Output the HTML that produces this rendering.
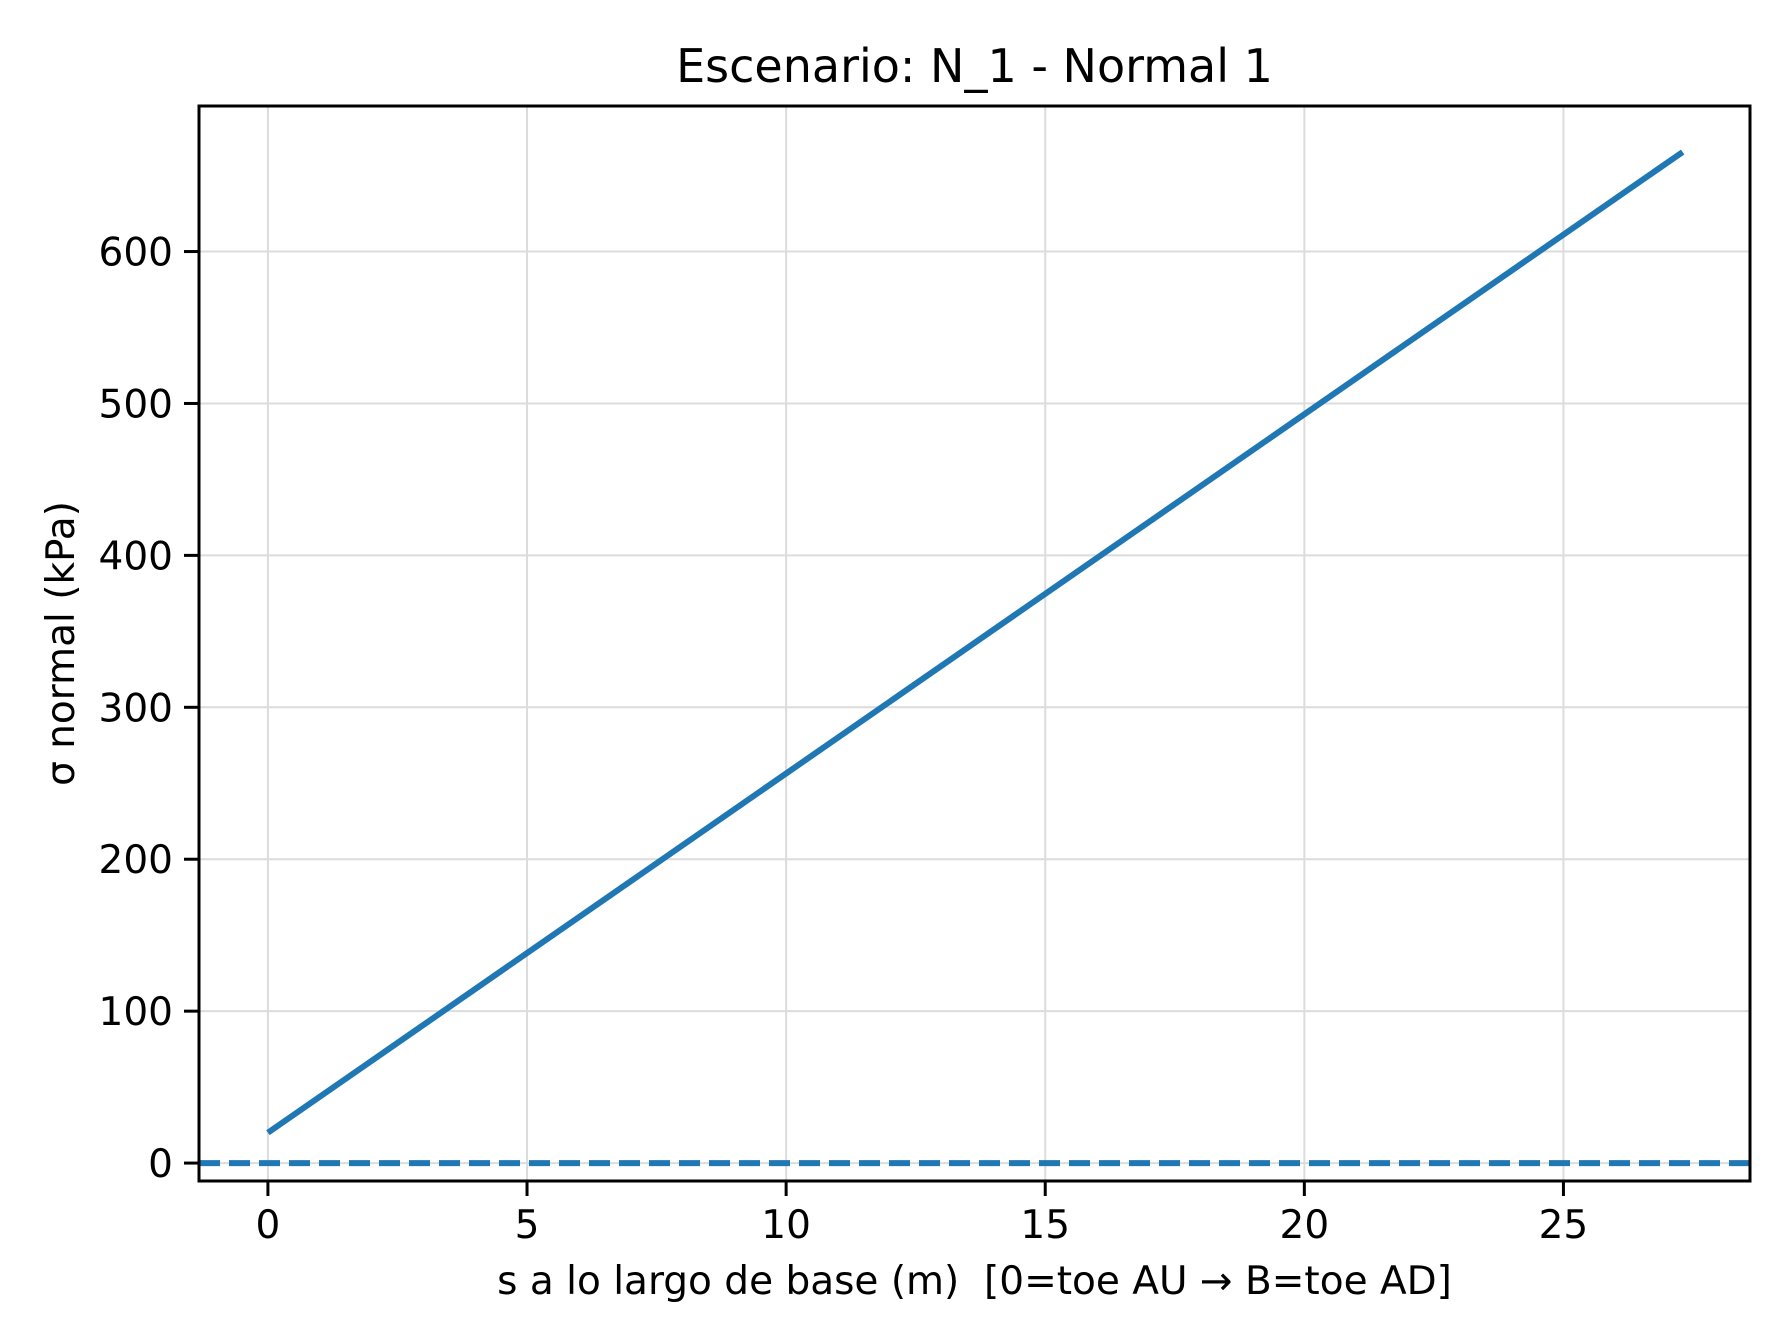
<!DOCTYPE html>
<html><head><meta charset="utf-8"><style>
body{margin:0;background:#fff}
svg{display:block;font-family:"DejaVu Sans","Liberation Sans",sans-serif}
</style></head><body>
<svg id="c" width="1792" height="1344"></svg>
<script>
const xTicks=[0,5,10,15,20,25];
const yTicks=[0,100,200,300,400,500,600];
const sValues=[0,27.3];
const sigmaValues=[20,665.5];
const refLine=[0];
const X0=199,X1=1750,Y0=1181,Y1=106,xmin=-1.33,xmax=28.6,ymin=-11.8,ymax=695.8;
const sx=v=>X0+(v-xmin)/(xmax-xmin)*(X1-X0);
const sy=v=>Y0-(v-ymin)/(ymax-ymin)*(Y0-Y1);
const svg=document.getElementById('c');const NS='http://www.w3.org/2000/svg';
function mk(t,a,txt){const e=document.createElementNS(NS,t);for(const k in a)e.setAttribute(k,a[k]);if(txt!==undefined)e.textContent=txt;svg.appendChild(e);return e;}
xTicks.forEach(t=>{const x=sx(t);
 let g=mk('line',{x1:x,x2:x,y1:Y1,y2:Y0,stroke:'#dcdcdc','stroke-width':2});
 
 
 let k=mk('line',{x1:x,x2:x,y1:Y0,y2:Y0+15,stroke:'#000','stroke-width':3});
 
 
 let l=mk('text',{x:x,y:Y0+57,'text-anchor':'middle','font-size':39},String(t));
 
 
});
yTicks.forEach(t=>{const y=sy(t);
 let g=mk('line',{x1:X0,x2:X1,y1:y,y2:y,stroke:'#dcdcdc','stroke-width':2});
 
 
 let k=mk('line',{x1:X0-15,x2:X0,y1:y,y2:y,stroke:'#000','stroke-width':3});
 
 
 let l=mk('text',{x:X0-26,y:y+14,'text-anchor':'end','font-size':39},String(t));
 
 
});
refLine.forEach(v=>{
 let r=mk('line',{x1:X0,x2:X1,y1:sy(v),y2:sy(v),stroke:'#1f77b4','stroke-width':6,'stroke-dasharray':'21 9'});
 
 
});
const pts=sValues.map((s,i)=>sx(s)+','+sy(sigmaValues[i])).join(' ');
let pl=mk('polyline',{points:pts,fill:'none',stroke:'#1f77b4','stroke-width':6});


let fr=mk('rect',{x:X0,y:Y1,width:X1-X0,height:Y0-Y1,fill:'none',stroke:'#000','stroke-width':3});


let t=mk('text',{x:(X0+X1)/2,y:82,'text-anchor':'middle','font-size':46},'Escenario: N_1 - Normal 1');


let xl=mk('text',{x:(X0+X1)/2,y:1294,'text-anchor':'middle','font-size':39},'s a lo largo de base (m)\u00a0\u00a0[0=toe AU \u2192 B=toe AD]');


let yl=mk('text',{x:0,y:0,'text-anchor':'middle','font-size':39,transform:'translate(74,'+((Y0+Y1)/2)+') rotate(-90)'},'\u03c3 normal (kPa)');


</script>
</body></html>
